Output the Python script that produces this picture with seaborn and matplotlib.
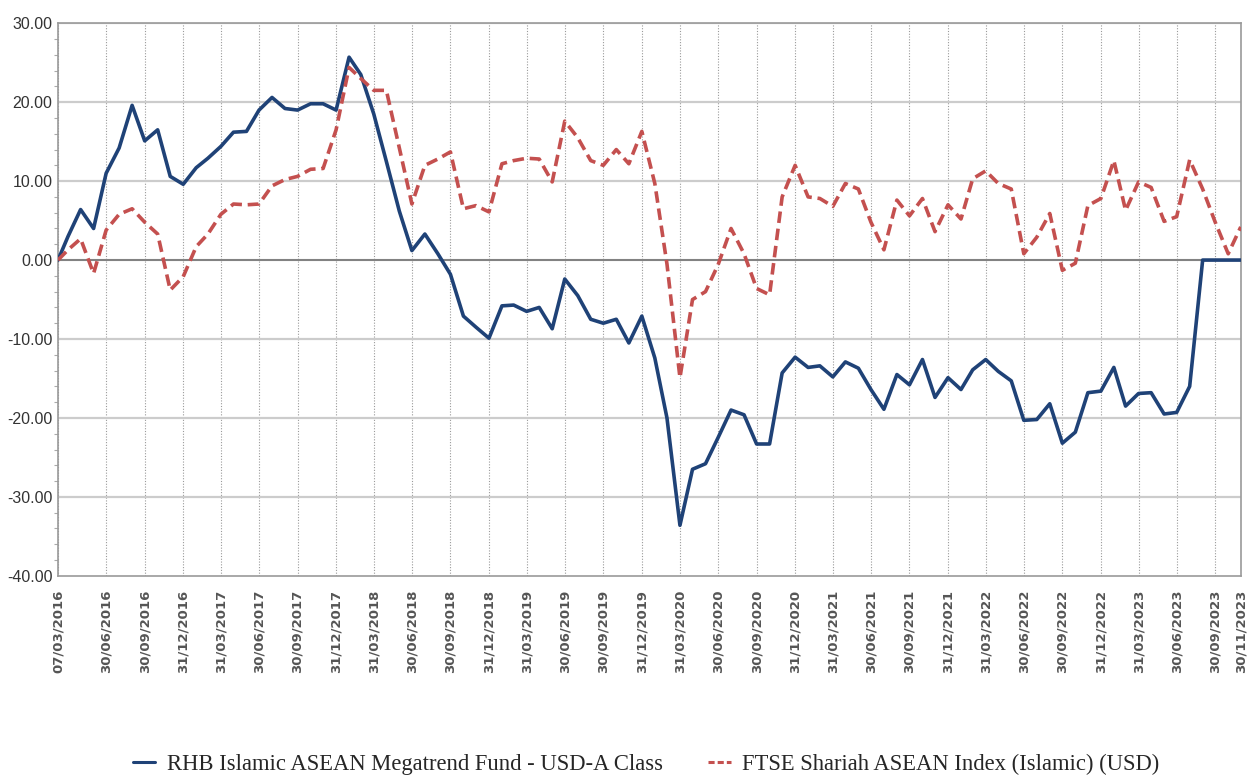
import pandas as pd
import matplotlib
matplotlib.use("Agg")
import matplotlib.pyplot as plt
import matplotlib.dates as mdates
from matplotlib.lines import Line2D
from matplotlib.ticker import MultipleLocator, FuncFormatter
import seaborn as sns

# --- Data (cumulative return, %) ---
START_DATE = "2016-03-07"
END_DATE = "2023-11-30"

FUND_NAME = "RHB Islamic ASEAN Megatrend Fund - USD-A Class"
INDEX_NAME = "FTSE Shariah ASEAN Index (Islamic) (USD)"

# first value is the launch date, the rest are month ends Mar 2016 .. Nov 2023
fund_2016 = [0.0, 3.0, 6.4, 4.0, 11.0, 14.2, 19.6, 15.1, 16.5, 10.6, 9.6]
fund_2017 = [11.7, 12.9, 14.4, 16.2, 16.3, 19.0, 20.6, 19.2, 19.0, 19.8, 19.8, 19.0]
fund_2018 = [25.7, 23.5, 18.5, 12.5, 6.2, 1.2, 3.3, 0.8, -1.8, -7.1, -8.5, -9.9]
fund_2019 = [-5.8, -5.7, -6.5, -6.0, -8.7, -2.4, -4.5, -7.5, -8.0, -7.5, -10.5, -7.1]
fund_2020 = [-12.4, -20.0, -33.6, -26.5, -25.8, -22.5, -19.0, -19.6, -23.3, -23.3, -14.3, -12.3]
fund_2021 = [-13.6, -13.4, -14.8, -12.9, -13.7, -16.4, -18.9, -14.5, -15.8, -12.6, -17.4, -14.9]
fund_2022 = [-16.4, -13.9, -12.6, -14.1, -15.3, -20.3, -20.2, -18.2, -23.2, -21.8, -16.8, -16.6]
fund_2023 = [-13.6, -18.5, -16.9, -16.8, -19.5, -19.3, -16.0, 0.0, 0.0, 0.0, 0.0]

index_2016 = [0.0, 1.3, 2.7, -1.7, 3.8, 5.8, 6.5, 4.8, 3.3, -3.8, -2.1]
index_2017 = [1.7, 3.3, 5.8, 7.1, 7.0, 7.1, 9.4, 10.2, 10.6, 11.5, 11.6, 16.5]
index_2018 = [24.4, 23.0, 21.5, 21.5, 14.2, 7.1, 12.0, 12.8, 13.7, 6.5, 6.9, 6.1]
index_2019 = [12.2, 12.6, 12.9, 12.8, 9.9, 17.6, 15.5, 12.6, 12.0, 14.0, 12.2, 16.3]
index_2020 = [9.7, -0.5, -14.9, -5.0, -4.0, -0.6, 4.0, 0.8, -3.6, -4.4, 8.0, 12.0]
index_2021 = [8.0, 7.8, 6.8, 9.7, 9.0, 4.8, 1.3, 7.6, 5.6, 7.8, 3.6, 7.0]
index_2022 = [5.2, 10.3, 11.3, 9.7, 9.0, 0.8, 2.9, 5.9, -1.3, -0.4, 6.9, 7.8]
index_2023 = [12.6, 6.3, 9.9, 9.2, 4.9, 5.5, 12.7, 9.0, 4.8, 0.8, 4.2]

fund = (fund_2016 + fund_2017 + fund_2018 + fund_2019
        + fund_2020 + fund_2021 + fund_2022 + fund_2023)
index = (index_2016 + index_2017 + index_2018 + index_2019
         + index_2020 + index_2021 + index_2022 + index_2023)

dates = [pd.Timestamp(START_DATE)] + list(pd.date_range("2016-03-31", END_DATE, freq="ME"))

# tick dates: launch, every quarter end, last date
tick_dates = ([pd.Timestamp(START_DATE)]
              + list(pd.date_range("2016-06-30", "2023-09-30", freq="QE"))
              + [pd.Timestamp(END_DATE)])

FUND_COLOR = "#1f4277"
INDEX_COLOR = "#c4504f"

df = pd.DataFrame({
    "Date": dates * 2,
    "Return": fund + index,
    "Series": [FUND_NAME] * len(fund) + [INDEX_NAME] * len(index),
})

sns.set_style("white")
plt.rcParams["axes.unicode_minus"] = False

fig = plt.figure(figsize=(12.47, 7.75), dpi=100)
ax = fig.add_axes([0.0465, 0.257, 0.9485, 0.713])

# grid first so the lines sit on top
for d in tick_dates:
    ax.axvline(d, color="#9a9a9a", lw=0.8, ls=(0, (1, 1.5)), zorder=0)
for y in range(-30, 31, 10):
    ax.axhline(y, color="#cccccc", lw=1.6, zorder=0)
ax.axhline(0, color="#808080", lw=1.4, zorder=1)

sns.lineplot(
    data=df, x="Date", y="Return", hue="Series", style="Series",
    palette={FUND_NAME: FUND_COLOR, INDEX_NAME: INDEX_COLOR},
    dashes={FUND_NAME: "", INDEX_NAME: (3.2, 1.6)},
    linewidth=2.6, legend=False, ax=ax, zorder=3,
)

ax.set_xlim(pd.Timestamp(START_DATE), pd.Timestamp(END_DATE))
ax.set_ylim(-40, 30)
ax.set_xlabel("")
ax.set_ylabel("")

ax.set_xticks(tick_dates)
ax.xaxis.set_major_formatter(mdates.DateFormatter("%d/%m/%Y"))
for lab in ax.get_xticklabels():
    lab.set_rotation(90)
    lab.set_fontsize(9.5)
    lab.set_fontweight("bold")
    lab.set_color("#555555")
    lab.set_family("DejaVu Sans")

ax.yaxis.set_major_locator(MultipleLocator(10))
ax.yaxis.set_minor_locator(MultipleLocator(2))
ax.yaxis.set_major_formatter(FuncFormatter(lambda v, p: f"{v:.2f}"))
for lab in ax.get_yticklabels():
    lab.set_fontsize(11.5)
    lab.set_color("#333333")
    lab.set_family(["Liberation Sans", "DejaVu Sans"])

ax.tick_params(axis="x", which="major", length=7, width=0.8, color="#888888", pad=3)
ax.tick_params(axis="y", which="major", length=0, pad=4)
ax.tick_params(axis="y", which="minor", left=True, length=3, width=0.8, color="#aaaaaa")

for side in ["left", "bottom", "top", "right"]:
    ax.spines[side].set_color("#9a9a9a")
    ax.spines[side].set_linewidth(1.2)

handles = [
    Line2D([], [], color=FUND_COLOR, lw=2.2),
    Line2D([], [], color=INDEX_COLOR, lw=2.2, ls=(0, (2, 1))),
]
fig.legend(
    handles, [FUND_NAME, INDEX_NAME],
    loc="lower center", bbox_to_anchor=(0.518, -0.026), ncol=2, frameon=False,
    handlelength=1.0, columnspacing=2.0, handletextpad=0.5,
    prop={"family": ["Liberation Serif", "DejaVu Serif"], "size": 16.3},
)

fig.savefig("out.png", dpi=100)
plt.close(fig)
